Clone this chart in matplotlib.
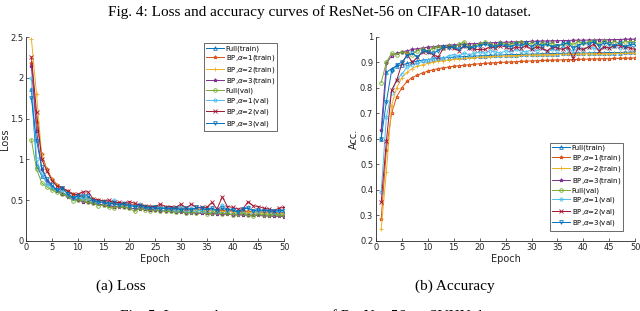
import numpy as np
import matplotlib
matplotlib.use('Agg')
import matplotlib.pyplot as plt

# --- Data ---
epochs = np.arange(1, 51)

labels = ['Full(train)', r'BP,$\alpha$=1(train)', r'BP,$\alpha$=2(train)', r'BP,$\alpha$=3(train)',
          'Full(val)', r'BP,$\alpha$=1(val)', r'BP,$\alpha$=2(val)', r'BP,$\alpha$=3(val)']

full_train_loss = [1.87, 0.92, 0.80, 0.72, 0.66, 0.62, 0.59, 0.56, 0.54, 0.52, 0.51, 0.50, 0.49, 0.48, 0.47,
                   0.46, 0.455, 0.45, 0.44, 0.435, 0.43, 0.425, 0.42, 0.415, 0.41, 0.405, 0.40, 0.40, 0.395, 0.39,
                   0.385, 0.385, 0.38, 0.38, 0.375, 0.37, 0.37, 0.365, 0.365, 0.36, 0.36, 0.355, 0.355, 0.35, 0.35,
                   0.35, 0.345, 0.345, 0.34, 0.34]
bp1_train_loss = [2.19, 1.46, 1.06, 0.88, 0.76, 0.69, 0.65, 0.61, 0.58, 0.56, 0.54, 0.52, 0.51, 0.50, 0.49,
                  0.48, 0.47, 0.46, 0.455, 0.45, 0.44, 0.435, 0.43, 0.425, 0.42, 0.415, 0.41, 0.405, 0.40, 0.40,
                  0.395, 0.39, 0.39, 0.385, 0.38, 0.38, 0.375, 0.375, 0.37, 0.37, 0.365, 0.365, 0.36, 0.36, 0.355,
                  0.355, 0.35, 0.35, 0.35, 0.345]
bp2_train_loss = [2.48, 1.80, 1.05, 0.86, 0.75, 0.68, 0.63, 0.60, 0.57, 0.55, 0.53, 0.51, 0.50, 0.49, 0.48,
                  0.47, 0.46, 0.45, 0.445, 0.44, 0.43, 0.425, 0.42, 0.415, 0.41, 0.405, 0.40, 0.395, 0.39, 0.39,
                  0.385, 0.38, 0.38, 0.375, 0.37, 0.37, 0.365, 0.36, 0.36, 0.355, 0.355, 0.35, 0.35, 0.345, 0.345,
                  0.34, 0.34, 0.34, 0.335, 0.335]
bp3_train_loss = [2.15, 1.35, 0.88, 0.74, 0.66, 0.61, 0.57, 0.54, 0.52, 0.50, 0.48, 0.47, 0.46, 0.45, 0.44,
                  0.43, 0.42, 0.415, 0.41, 0.40, 0.395, 0.39, 0.385, 0.38, 0.375, 0.37, 0.365, 0.36, 0.355, 0.35,
                  0.345, 0.345, 0.34, 0.335, 0.335, 0.33, 0.33, 0.325, 0.325, 0.32, 0.32, 0.315, 0.315, 0.31, 0.31,
                  0.305, 0.305, 0.30, 0.30, 0.295]
full_val_loss = [1.24, 0.88, 0.71, 0.66, 0.62, 0.60, 0.57, 0.55, 0.49, 0.50, 0.50, 0.47, 0.46, 0.43, 0.44,
                 0.41, 0.40, 0.43, 0.41, 0.40, 0.36, 0.40, 0.38, 0.37, 0.38, 0.37, 0.36, 0.36, 0.35, 0.37,
                 0.34, 0.35, 0.34, 0.36, 0.33, 0.34, 0.35, 0.33, 0.34, 0.32, 0.33, 0.34, 0.31, 0.30, 0.33,
                 0.32, 0.31, 0.33, 0.31, 0.31]
bp1_val_loss = [2.00, 1.00, 0.82, 0.70, 0.66, 0.63, 0.62, 0.58, 0.53, 0.55, 0.52, 0.53, 0.50, 0.47, 0.47,
                0.47, 0.50, 0.45, 0.46, 0.44, 0.43, 0.45, 0.41, 0.42, 0.40, 0.41, 0.40, 0.40, 0.38, 0.42,
                0.38, 0.40, 0.38, 0.37, 0.40, 0.39, 0.37, 0.44, 0.38, 0.39, 0.36, 0.38, 0.41, 0.36, 0.37,
                0.38, 0.37, 0.35, 0.36, 0.36]
bp2_val_loss = [2.26, 1.58, 1.00, 0.86, 0.74, 0.67, 0.65, 0.61, 0.57, 0.57, 0.60, 0.60, 0.51, 0.50, 0.49,
                0.50, 0.47, 0.47, 0.46, 0.48, 0.46, 0.44, 0.43, 0.42, 0.42, 0.45, 0.42, 0.42, 0.41, 0.45,
                0.40, 0.45, 0.41, 0.41, 0.41, 0.47, 0.39, 0.54, 0.42, 0.41, 0.39, 0.39, 0.48, 0.43, 0.42,
                0.40, 0.39, 0.37, 0.40, 0.41]
bp3_val_loss = [1.75, 1.23, 0.90, 0.76, 0.68, 0.62, 0.65, 0.58, 0.53, 0.55, 0.55, 0.55, 0.49, 0.48, 0.47,
                0.45, 0.46, 0.44, 0.45, 0.43, 0.42, 0.43, 0.41, 0.40, 0.41, 0.39, 0.40, 0.39, 0.40, 0.38,
                0.40, 0.38, 0.41, 0.40, 0.38, 0.40, 0.37, 0.40, 0.38, 0.38, 0.35, 0.39, 0.40, 0.37, 0.38,
                0.37, 0.37, 0.36, 0.37, 0.37]

full_train_acc = [0.60, 0.86, 0.875, 0.885, 0.89, 0.895, 0.90, 0.905, 0.908, 0.91, 0.913, 0.915, 0.917, 0.918,
                  0.92, 0.921, 0.922, 0.923, 0.924, 0.925, 0.926, 0.927, 0.928, 0.928, 0.929, 0.93, 0.93, 0.931,
                  0.931, 0.932, 0.932, 0.933, 0.933, 0.934, 0.934, 0.935, 0.935, 0.935, 0.936, 0.936, 0.936,
                  0.937, 0.937, 0.937, 0.938, 0.938, 0.938, 0.939, 0.939, 0.94]
bp1_train_acc = [0.285, 0.555, 0.70, 0.765, 0.80, 0.825, 0.84, 0.85, 0.858, 0.865, 0.87, 0.875, 0.878, 0.881,
                 0.884, 0.886, 0.888, 0.89, 0.892, 0.894, 0.895, 0.897, 0.898, 0.899, 0.90, 0.901, 0.902, 0.903,
                 0.904, 0.905, 0.906, 0.907, 0.907, 0.908, 0.909, 0.909, 0.91, 0.91, 0.911, 0.912, 0.912,
                 0.913, 0.913, 0.914, 0.914, 0.915, 0.915, 0.916, 0.916, 0.917]
bp2_train_acc = [0.245, 0.47, 0.73, 0.80, 0.84, 0.86, 0.875, 0.885, 0.89, 0.895, 0.90, 0.903, 0.906, 0.909,
                 0.911, 0.913, 0.915, 0.917, 0.918, 0.92, 0.921, 0.922, 0.923, 0.924, 0.925, 0.926, 0.926, 0.927,
                 0.928, 0.928, 0.929, 0.929, 0.93, 0.93, 0.931, 0.931, 0.932, 0.932, 0.932, 0.933, 0.933,
                 0.933, 0.934, 0.934, 0.934, 0.935, 0.935, 0.935, 0.936, 0.936]
bp3_train_acc = [0.635, 0.895, 0.925, 0.935, 0.94, 0.945, 0.95, 0.953, 0.956, 0.959, 0.961, 0.963, 0.965, 0.967,
                 0.968, 0.969, 0.971, 0.972, 0.973, 0.974, 0.975, 0.976, 0.977, 0.978, 0.978, 0.979, 0.98, 0.98,
                 0.981, 0.982, 0.982, 0.983, 0.983, 0.984, 0.984, 0.985, 0.985, 0.986, 0.986, 0.986, 0.987,
                 0.987, 0.988, 0.988, 0.988, 0.989, 0.989, 0.99, 0.99, 0.99]
full_val_acc = [0.82, 0.90, 0.935, 0.93, 0.94, 0.935, 0.93, 0.945, 0.95, 0.945, 0.955, 0.96, 0.955, 0.965, 0.96,
                0.97, 0.98, 0.96, 0.965, 0.97, 0.98, 0.97, 0.965, 0.975, 0.97, 0.97, 0.975, 0.98, 0.97, 0.975,
                0.965, 0.975, 0.97, 0.975, 0.965, 0.97, 0.975, 0.97, 0.98, 0.975, 0.98, 0.985, 0.97, 0.985,
                0.975, 0.98, 0.975, 0.98, 0.98, 0.98]
bp1_val_acc = [0.39, 0.685, 0.78, 0.83, 0.855, 0.88, 0.89, 0.895, 0.905, 0.91, 0.915, 0.92, 0.915, 0.925, 0.93,
               0.925, 0.935, 0.93, 0.935, 0.94, 0.935, 0.945, 0.94, 0.935, 0.945, 0.94, 0.95, 0.945, 0.94, 0.95,
               0.945, 0.955, 0.94, 0.95, 0.945, 0.96, 0.95, 0.945, 0.955, 0.95, 0.96, 0.955, 0.95, 0.96, 0.955,
               0.965, 0.955, 0.96, 0.965, 0.96]
bp2_val_acc = [0.35, 0.59, 0.79, 0.83, 0.895, 0.93, 0.90, 0.92, 0.94, 0.94, 0.93, 0.92, 0.955, 0.96, 0.955,
               0.945, 0.965, 0.955, 0.95, 0.95, 0.95, 0.96, 0.955, 0.965, 0.96, 0.95, 0.96, 0.955, 0.965, 0.95,
               0.96, 0.955, 0.945, 0.96, 0.955, 0.95, 0.96, 0.915, 0.955, 0.95, 0.96, 0.97, 0.945, 0.96, 0.955,
               0.965, 0.965, 0.96, 0.955, 0.95]
bp3_val_acc = [0.60, 0.745, 0.865, 0.89, 0.90, 0.925, 0.935, 0.92, 0.945, 0.94, 0.935, 0.945, 0.96, 0.955, 0.96,
               0.95, 0.965, 0.955, 0.96, 0.965, 0.97, 0.965, 0.96, 0.97, 0.965, 0.96, 0.97, 0.965, 0.975, 0.96,
               0.975, 0.965, 0.97, 0.96, 0.965, 0.97, 0.975, 0.955, 0.965, 0.975, 0.97, 0.98, 0.965, 0.975,
               0.97, 0.965, 0.975, 0.96, 0.97, 0.97]

loss_series = [full_train_loss, bp1_train_loss, bp2_train_loss, bp3_train_loss,
               full_val_loss, bp1_val_loss, bp2_val_loss, bp3_val_loss]
acc_series = [full_train_acc, bp1_train_acc, bp2_train_acc, bp3_train_acc,
              full_val_acc, bp1_val_acc, bp2_val_acc, bp3_val_acc]

# MATLAB default line colours, last one wraps to the first
colors = ['#0072BD', '#D95319', '#EDB120', '#7E2F8E', '#77AC30', '#4DBEEE', '#A2142F', '#0072BD']
markers = ['^', '*', '+', '*', 'o', 'p', 'x', 'v']

plt.rcParams['font.family'] = 'DejaVu Sans'
fig = plt.figure(figsize=(6.4, 3.11), dpi=100)

ax1 = fig.add_axes([0.041, 0.226, 0.403, 0.654])
ax2 = fig.add_axes([0.5875, 0.226, 0.405, 0.656])


def draw(ax, series, ylim, yticks, ylabel, legend_loc, anchor):
    for vals, lab, c, m in zip(series, labels, colors, markers):
        ax.plot(epochs, vals, color=c, marker=m, markersize=2.6, markerfacecolor='none',
                markeredgewidth=0.6, linewidth=0.7, label=lab)
    ax.set_xlim(0, 50)
    ax.set_ylim(*ylim)
    ax.set_xticks(np.arange(0, 51, 5))
    ax.set_yticks(yticks)
    ax.set_yticklabels([f'{t:g}' for t in yticks])
    ax.tick_params(direction='in', length=2.5, width=0.5, labelsize=6, colors='#262626', pad=2)
    for s in ['top', 'right']:
        ax.spines[s].set_visible(False)
    for s in ['left', 'bottom']:
        ax.spines[s].set_color('#262626')
        ax.spines[s].set_linewidth(0.6)
    ax.set_xlabel('Epoch', fontsize=7, color='#262626', labelpad=1)
    ax.set_ylabel(ylabel, fontsize=7, color='#262626', labelpad=1)
    leg = ax.legend(loc=legend_loc, bbox_to_anchor=anchor, fontsize=5, frameon=True, fancybox=False,
                    edgecolor='#262626', borderpad=0.3, labelspacing=0.22, handlelength=2.6,
                    handletextpad=0.3, borderaxespad=0.0)
    leg.get_frame().set_linewidth(0.6)


draw(ax1, loss_series, (0, 2.5), [0, 0.5, 1, 1.5, 2, 2.5], 'Loss', 'upper right', (0.973, 0.972))
draw(ax2, acc_series, (0.2, 1.0), [0.2, 0.3, 0.4, 0.5, 0.6, 0.7, 0.8, 0.9, 1.0], 'Acc.', 'lower right',
     (0.954, 0.05))
ax1.yaxis.set_label_coords(-0.062, 0.5)

serif = 'Liberation Serif'
fig.text(0.5, 0.96, 'Fig. 4: Loss and accuracy curves of ResNet-56 on CIFAR-10 dataset.',
         ha='center', va='center', fontsize=11, family=serif)
fig.text(0.188, 0.08, '(a) Loss', ha='center', va='center', fontsize=11, family=serif)
fig.text(0.71, 0.08, '(b) Accuracy', ha='center', va='center', fontsize=11, family=serif)
fig.text(0.5, -0.03, 'Fig. 5: Loss and accuracy curves of ResNet-56 on SVHN dataset.',
         ha='center', va='baseline', fontsize=11, family=serif)

fig.savefig('out.png', dpi=100)
